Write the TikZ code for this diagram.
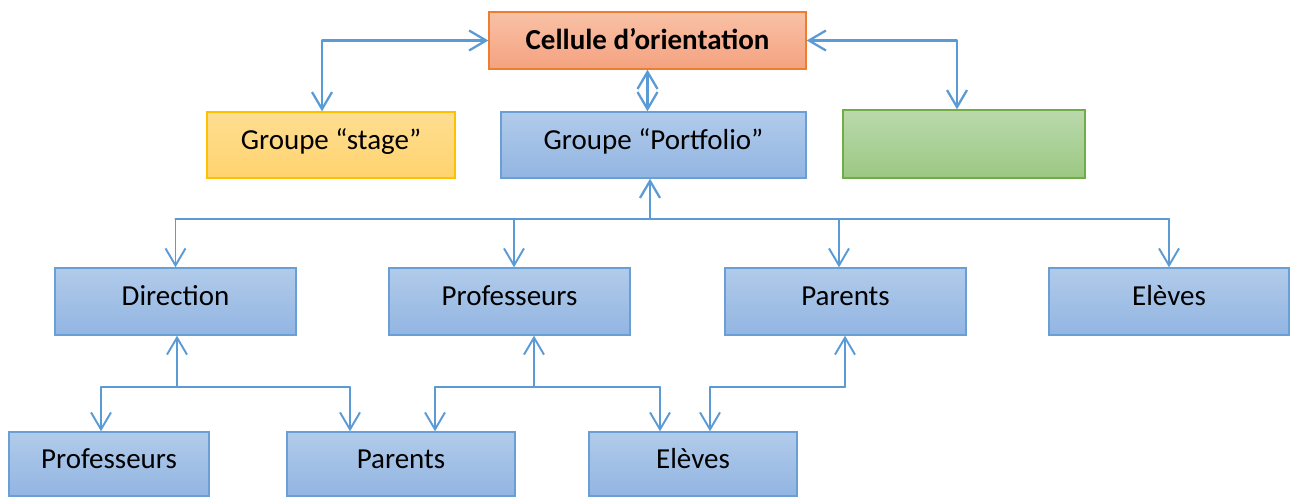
\documentclass[tikz,border=0pt]{standalone}
\usepackage{fontspec}
\setmainfont{Carlito}
\usetikzlibrary{arrows.meta}
\definecolor{lien}{HTML}{5B9BD5}
\definecolor{bleuhaut}{HTML}{B1CBEA}
\definecolor{bleubas}{HTML}{92B5E2}
\definecolor{bleubord}{HTML}{6A9FD6}
\definecolor{orangehaut}{HTML}{F9C1A6}
\definecolor{orangebas}{HTML}{F4A27F}
\definecolor{orangebord}{HTML}{ED7D31}
\definecolor{jaunehaut}{HTML}{FFDE92}
\definecolor{jaunebas}{HTML}{FFD36E}
\definecolor{jaunebord}{HTML}{FFC000}
\definecolor{verthaut}{HTML}{BAD9AC}
\definecolor{vertbas}{HTML}{9CC883}
\definecolor{vertbord}{HTML}{70AD47}

\begin{document}
\begin{tikzpicture}[x=0.02cm,y=-0.02cm,
    boite/.style={draw=bleubord,line width=0.8pt,top color=bleuhaut,bottom color=bleubas,
        minimum width=4.82cm,minimum height=1.34cm,inner sep=0pt,text height=11pt,text depth=6pt,
        font=\fontsize{16.5}{20}\selectfont},
    lien/.style={draw=lien,line width=1.3pt,line cap=round,line join=round},
    fleche/.style={lien,-{Straight Barb[length=3.4mm,width=4mm]}},
    double/.style={lien,{Straight Barb[length=3.4mm,width=4mm]}-{Straight Barb[length=3.4mm,width=4mm]}}]
        \useasboundingbox (0,0) rectangle (1291,497);
        % niveau 1
        \node[boite,draw=orangebord,top color=orangehaut,bottom color=orangebas,
            minimum width=6.34cm,minimum height=1.14cm,text height=11pt,text depth=0.5pt,
            font=\fontsize{16.5}{20}\selectfont\bfseries]
            (cellule) at (647.5,40.5) {Cellule d’orientation};
        \node[boite,draw=jaunebord,top color=jaunehaut,bottom color=jaunebas,
            minimum width=4.96cm,minimum height=1.32cm] (stage) at (331,145) {Groupe “stage”};
        \node[boite,minimum width=6.1cm,minimum height=1.32cm] (portfolio) at (653.5,145) {Groupe “Portfolio”};
        \node[boite,draw=vertbord,top color=verthaut,bottom color=vertbas,
            minimum width=4.84cm,minimum height=1.36cm] (vert) at (964,144) {};
        % niveau 2
        \node[boite] (direction) at (175.5,301.5) {Direction};
        \node[boite] (profs) at (509.5,301.5) {Professeurs};
        \node[boite] (parents) at (845.5,301.5) {Parents};
        \node[boite,minimum width=4.8cm] (eleves) at (1169,301.5) {Elèves};
        % niveau 3
        \node[boite,minimum width=4cm,minimum height=1.28cm] (profsb) at (109,464) {Professeurs};
        \node[boite,minimum width=4.56cm,minimum height=1.28cm] (parentsb) at (401,464) {Parents};
        \node[boite,minimum width=4.16cm,minimum height=1.28cm] (elevesb) at (693,464) {Elèves};
        % liens du haut
        \coordinate (cg) at (322,40.5);
        \coordinate (cd) at (957,40.5);
        \draw[double] (cellule.west) -- (cg) -- (cg |- stage.north);
        \draw[double] (cellule.east) -- (cd) -- (cd |- vert.north);
        \draw[double] (cellule.south) -- (cellule.south |- portfolio.north);
        % bus sous le portfolio
        \coordinate (b1) at (650,219);
        \draw[fleche] (b1) -- (b1 |- portfolio.south);
        \draw[lien] (direction.north |- b1) -- (eleves.north |- b1);
        \draw[fleche,line width=1.1pt] (direction.north |- b1) -- (direction.north);
        \draw[fleche,line width=1.1pt] ([xshift=0.09cm]profs.north |- b1) -- ([xshift=0.09cm]profs.north);
        \draw[fleche,line width=1.1pt] ([xshift=-0.13cm]parents.north |- b1) -- ([xshift=-0.13cm]parents.north);
        \draw[fleche,line width=1.1pt] (eleves.north |- b1) -- (eleves.north);
        % bus sous la direction
        \coordinate (b2) at (177,387);
        \coordinate (b2g) at (101,387);
        \coordinate (b2d) at (350,387);
        \draw[fleche,line width=1.1pt] (b2) -- (b2 |- direction.south);
        \draw[lien,line width=1.1pt] (b2g) -- (b2d);
        \draw[fleche,line width=1.1pt] (b2g) -- (b2g |- profsb.north);
        \draw[fleche,line width=1.1pt] (b2d) -- (b2d |- parentsb.north);
        % bus sous les professeurs
        \coordinate (b3) at (534,387);
        \coordinate (b3g) at (435,387);
        \coordinate (b3d) at (660,387);
        \draw[fleche,line width=1.1pt] (b3) -- (b3 |- profs.south);
        \draw[lien,line width=1.1pt] (b3g) -- (b3d);
        \draw[fleche,line width=1.1pt] (b3g) -- (b3g |- parentsb.north);
        \draw[fleche,line width=1.1pt] (b3d) -- (b3d |- elevesb.north);
        % bus sous les parents
        \coordinate (b4) at (845,387);
        \coordinate (b4g) at (710,387);
        \draw[lien,line width=1.1pt] (b4g) -- (b4);
        \draw[fleche,line width=1.1pt] (b4) -- (b4 |- parents.south);
        \draw[fleche,line width=1.1pt] (b4g) -- (b4g |- elevesb.north);
      \end{tikzpicture}
\end{document}
